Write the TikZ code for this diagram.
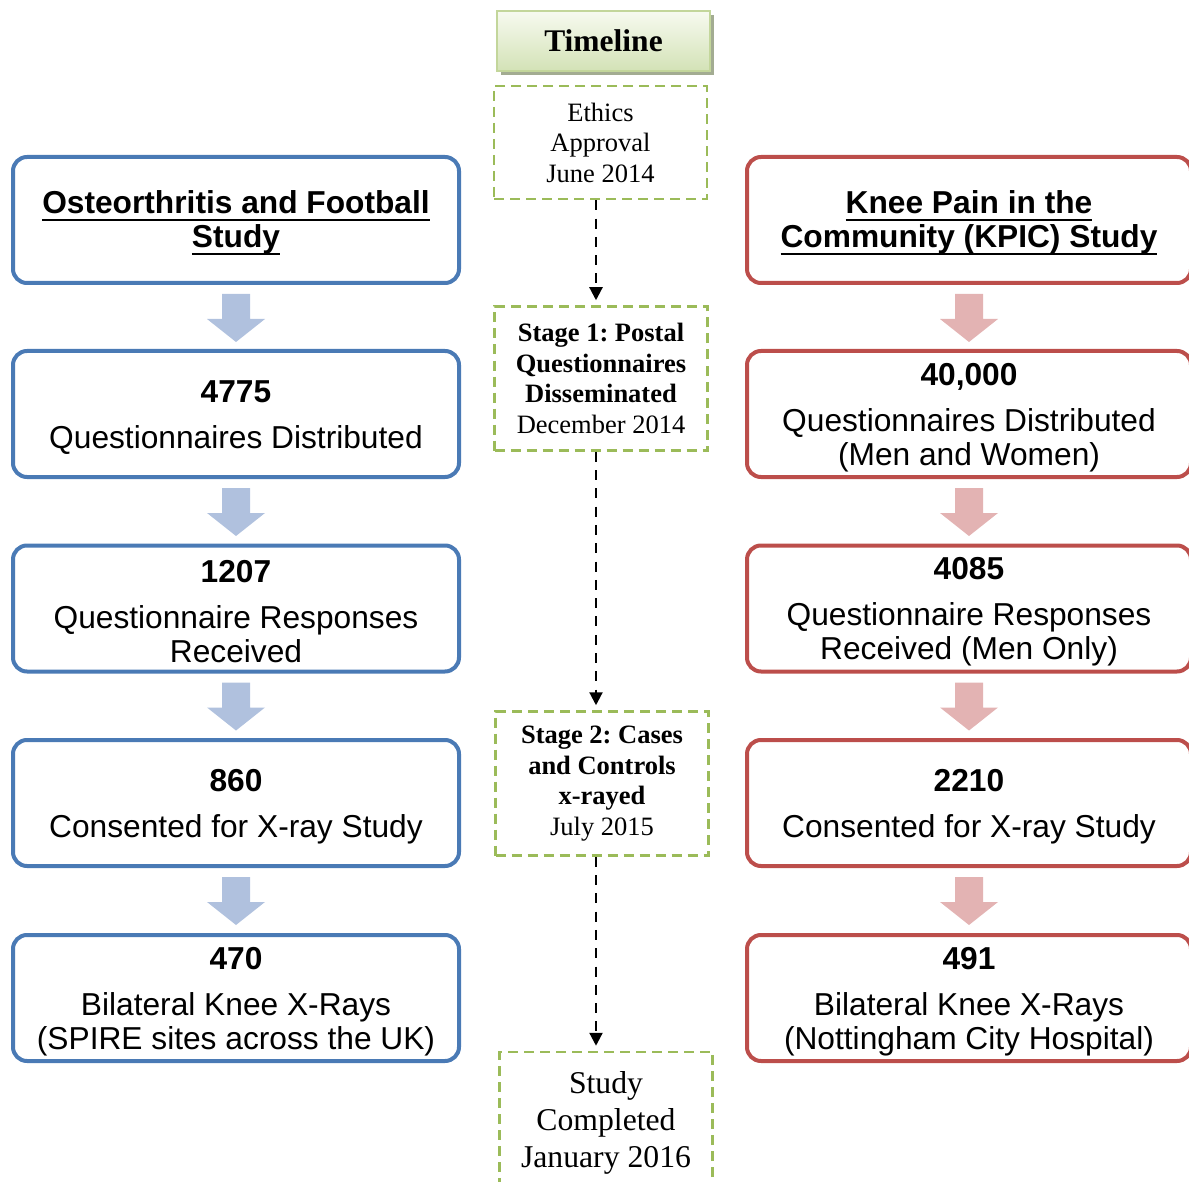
\documentclass[tikz,border=0pt]{standalone}
\usepackage{fontspec}
\setmainfont{Liberation Serif}
\newfontfamily\arialf{Liberation Sans}
\usetikzlibrary{arrows.meta,calc,shadows}
\frenchspacing
\definecolor{bluebd}{HTML}{4A7AB5}
\definecolor{redbd}{HTML}{BC4E4B}
\definecolor{bluearr}{HTML}{B0C1DE}
\definecolor{redarr}{HTML}{E3B3B3}
\definecolor{greenbd}{HTML}{9BBB59}
\definecolor{tlborder}{HTML}{C3D69B}
\definecolor{tltop}{HTML}{F7FAF0}
\definecolor{tlbot}{HTML}{D3E2B6}
\definecolor{tlshadow}{HTML}{A3AC92}
\newcommand\myul[1]{\setbox0\hbox{#1}\rlap{\rule[-8pt]{\wd0}{2.6pt}}\box0}
\newcommand\tstrut{\rule{0pt}{29pt}}
\newcommand\blockarrow[3]{%
  \fill[#3] ($(#1.south)+(-14,9)$) -- ($(#1.south)+(14,9)$) -- ($(#1.south)+(14,34)$)
    -- ($(#1.south)+(29,34)$) -- ($(#1.south)+(0,57)$) -- ($(#1.south)+(-29,34)$)
    -- ($(#1.south)+(-14,34)$) -- cycle;}
\tikzset{
  leftbox/.style={draw=bluebd, line width=4pt, rounded corners=14pt,
    minimum width=446pt, minimum height=126pt, align=center, inner sep=0pt,
    font=\arialf\fontsize{31.7}{34}\selectfont},
  rightbox/.style={leftbox, draw=redbd, minimum width=444pt},
  tlbox/.style={draw=greenbd, line width=2.5pt, dash pattern=on 10pt off 6pt,
    minimum width=213pt, align=center, inner sep=0pt,
    font=\fontsize{26.5}{30.5}\selectfont},
  dasharrow/.style={draw=black, line width=2.2pt, dash pattern=on 10pt off 8.3pt,
    -{Triangle[width=13pt,length=13pt]}, shorten >=5pt},
}
\begin{document}
\begin{tikzpicture}[x=1pt,y=-1pt]
\useasboundingbox (0,0) rectangle (1189,1182);
\clip (0,0) rectangle (1189,1182);
% Left column
\node[leftbox] (l1) at (236,220) {\tstrut\bfseries\myul{Osteorthritis and Football}\\\bfseries\myul{Study}};
\node[leftbox] (l2) at (236,414) {\tstrut\bfseries 4775\\[12pt]Questionnaires Distributed};
\node[leftbox] (l3) at (236,608.5) {\tstrut\bfseries 1207\\[12pt]Questionnaire Responses\\Received};
\node[leftbox] (l4) at (236,803) {\tstrut\bfseries 860\\[12pt]Consented for X-ray Study};
\node[leftbox] (l5) at (236,998) {\tstrut\bfseries 470\\[12pt]Bilateral Knee X-Rays\\(SPIRE sites across the UK)};
% Right column
\node[rightbox] (r1) at (969,220) {\tstrut\bfseries\myul{Knee Pain in the}\\\bfseries\myul{Community (KPIC) Study}};
\node[rightbox] (r2) at (969,414) {\tstrut\bfseries 40,000\\[12pt]Questionnaires Distributed\\(Men and Women)};
\node[rightbox] (r3) at (969,608.5) {\tstrut\bfseries 4085\\[12pt]Questionnaire Responses\\Received (Men Only)};
\node[rightbox] (r4) at (969,803) {\tstrut\bfseries 2210\\[12pt]Consented for X-ray Study};
\node[rightbox] (r5) at (969,998) {\tstrut\bfseries 491\\[12pt]Bilateral Knee X-Rays\\(Nottingham City Hospital)};
% Block arrows
\blockarrow{l1}{l2}{bluearr}
\blockarrow{l2}{l3}{bluearr}
\blockarrow{l3}{l4}{bluearr}
\blockarrow{l4}{l5}{bluearr}
\blockarrow{r1}{r2}{redarr}
\blockarrow{r2}{r3}{redarr}
\blockarrow{r3}{r4}{redarr}
\blockarrow{r4}{r5}{redarr}
% Timeline
\node[draw=tlborder, line width=2pt, top color=tltop, bottom color=tlbot,
  minimum width=213pt, minimum height=60pt, inner sep=0pt,
  drop shadow={shadow xshift=4pt, shadow yshift=-4pt, fill=tlshadow, opacity=1},
  font=\bfseries\fontsize{31.5}{34}\selectfont] (tl) at (603.5,41) {Timeline};
\node[tlbox, minimum height=113pt] (eth) at (600.5,142.5) {Ethics\\Approval\\June 2014};
\node[tlbox, minimum height=144pt] (s1) at (601,378.5) {\bfseries Stage 1: Postal\\\bfseries Questionnaires\\\bfseries Disseminated\\December 2014};
\node[tlbox, minimum height=144pt] (s2) at (602,783.5) {\bfseries Stage 2: Cases\\\bfseries and Controls\\\bfseries x-rayed\\July 2015};
\node[tlbox, minimum height=136pt, font=\fontsize{31.7}{37}\selectfont] (sc) at (606,1120) {\rule{0pt}{28pt}Study\\Completed\\January 2016};
\coordinate (ax) at (596,0);
\draw[dasharrow] (eth.south -| ax) -- (s1.north -| ax);
\draw[dasharrow] (s1.south -| ax) -- (s2.north -| ax);
\draw[dasharrow] (s2.south -| ax) -- (sc.north -| ax);
\end{tikzpicture}
\end{document}
